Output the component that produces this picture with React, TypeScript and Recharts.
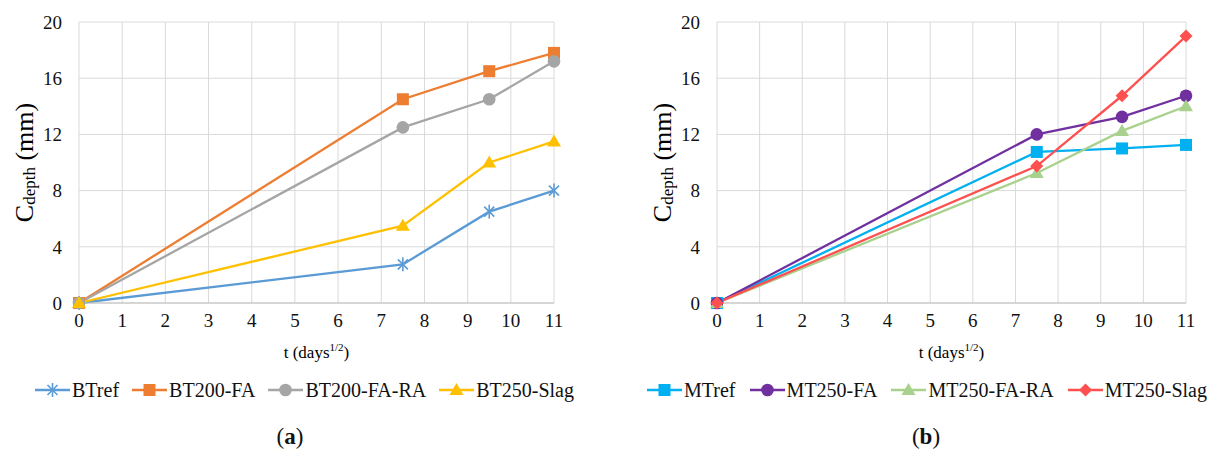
import React from 'react';
import { LineChart, Line, XAxis, YAxis, CartesianGrid } from 'recharts';

const T_VALUES = [0, 7.5, 9.5, 11];
const X_TICKS = [0, 1, 2, 3, 4, 5, 6, 7, 8, 9, 10, 11];
const Y_TICKS = [0, 4, 8, 12, 16, 20];

// panel (a)
const BT_REF = [0, 2.75, 6.5, 8];
const BT200_FA = [0, 14.5, 16.5, 17.8];
const BT200_FA_RA = [0, 12.5, 14.5, 17.2];
const BT250_SLAG = [0, 5.5, 10, 11.5];

// panel (b)
const MT_REF = [0, 10.75, 11, 11.25];
const MT250_FA = [0, 12, 13.25, 14.75];
const MT250_FA_RA = [0, 9.25, 12.25, 14];
const MT250_SLAG = [0, 9.75, 14.75, 19];

type Shape = 'star' | 'square' | 'circle' | 'triangle' | 'diamond';

interface SeriesDef {
  key: string;
  name: string;
  values: number[];
  color: string;
  shape: Shape;
}

const SERIES_A: SeriesDef[] = [
  { key: 'btref', name: 'BTref', values: BT_REF, color: '#5b9bd5', shape: 'star' },
  { key: 'bt200fa', name: 'BT200-FA', values: BT200_FA, color: '#ed7d31', shape: 'square' },
  { key: 'bt200fara', name: 'BT200-FA-RA', values: BT200_FA_RA, color: '#a5a5a5', shape: 'circle' },
  { key: 'bt250slag', name: 'BT250-Slag', values: BT250_SLAG, color: '#ffc000', shape: 'triangle' },
];

const SERIES_B: SeriesDef[] = [
  { key: 'mtref', name: 'MTref', values: MT_REF, color: '#00b0f0', shape: 'square' },
  { key: 'mt250fa', name: 'MT250-FA', values: MT250_FA, color: '#7030a0', shape: 'circle' },
  { key: 'mt250fara', name: 'MT250-FA-RA', values: MT250_FA_RA, color: '#a9d18e', shape: 'triangle' },
  { key: 'mt250slag', name: 'MT250-Slag', values: MT250_SLAG, color: '#ff5050', shape: 'diamond' },
];

const FONT = 'Liberation Serif, Tinos, DejaVu Serif, serif';
const GRID = '#d9d9d9';

function buildRows(series: SeriesDef[]) {
  return T_VALUES.map((t, i) => {
    const row: Record<string, number> = { t };
    series.forEach((s) => {
      row[s.key] = s.values[i];
    });
    return row;
  });
}

function Marker({ shape, color, cx, cy }: { shape: Shape; color: string; cx: number; cy: number }) {
  switch (shape) {
    case 'star':
      return (
        <g stroke={color} strokeWidth={1.6}>
          <line x1={cx - 5} y1={cy - 5} x2={cx + 5} y2={cy + 5} />
          <line x1={cx - 5} y1={cy + 5} x2={cx + 5} y2={cy - 5} />
          <line x1={cx} y1={cy - 7} x2={cx} y2={cy + 7} />
        </g>
      );
    case 'square':
      return <rect x={cx - 6} y={cy - 6} width={12} height={12} fill={color} />;
    case 'circle':
      return <circle cx={cx} cy={cy} r={6.3} fill={color} />;
    case 'triangle':
      return <polygon points={`${cx},${cy - 7} ${cx + 7},${cy + 5} ${cx - 7},${cy + 5}`} fill={color} />;
    case 'diamond':
      return <polygon points={`${cx},${cy - 6.5} ${cx + 6.5},${cy} ${cx},${cy + 6.5} ${cx - 6.5},${cy}`} fill={color} />;
  }
  return null;
}

function makeDot(s: SeriesDef) {
  return (props: any) => {
    const { cx, cy, index } = props;
    if (cx == null || cy == null) return <g key={`${s.key}-${index}`} />;
    return (
      <g key={`${s.key}-${index}`}>
        <Marker shape={s.shape} color={s.color} cx={cx} cy={cy} />
      </g>
    );
  };
}

function YTitle(props: any) {
  const vb = props.viewBox || { x: 0, y: 0, width: 0, height: 0 };
  const x = vb.x + vb.width - 55;
  const y = vb.y + vb.height / 2;
  return (
    <text
      x={x}
      y={y}
      transform={`rotate(-90, ${x}, ${y})`}
      textAnchor="middle"
      dominantBaseline="central"
      style={{ fontFamily: FONT }}
      fontSize={26}
      fill="#000"
    >
      <tspan>C</tspan>
      <tspan fontSize={17} dy={5}>depth</tspan>
      <tspan dy={-5}> (mm)</tspan>
    </text>
  );
}

function XTitle(props: any) {
  const vb = props.viewBox || { x: 0, y: 0, width: 0, height: 0 };
  const x = vb.x + vb.width / 2;
  const y = vb.y + 55;
  return (
    <text x={x} y={y} textAnchor="middle" style={{ fontFamily: FONT }} fontSize={17} fill="#000">
      <tspan>t (days</tspan>
      <tspan fontSize={11} dy={-7}>1/2</tspan>
      <tspan dy={7}>)</tspan>
    </text>
  );
}

function Panel({
  series,
  width,
  margin,
}: {
  series: SeriesDef[];
  width: number;
  margin: { top: number; right: number; bottom: number; left: number };
}) {
  const rows = buildRows(series);
  return (
    <LineChart width={width} height={453} data={rows} margin={margin} style={{ fontFamily: FONT }}>
      <CartesianGrid stroke={GRID} strokeWidth={1} />
      <XAxis
        dataKey="t"
        type="number"
        domain={[0, 11]}
        ticks={X_TICKS}
        interval={0}
        tickSize={0}
        tickMargin={11}
        height={30}
        axisLine={{ stroke: '#bfbfbf' }}
        tick={{ fill: '#111', fontSize: 19, style: { fontFamily: FONT } }}
        label={<XTitle />}
      />
      <YAxis
        type="number"
        domain={[0, 20]}
        ticks={Y_TICKS}
        interval={0}
        width={30}
        tickSize={0}
        tickMargin={17}
        axisLine={false}
        tick={{ fill: '#111', fontSize: 19, style: { fontFamily: FONT } }}
        label={<YTitle />}
      />
      {series.map((s) => (
        <Line
          key={s.key}
          dataKey={s.key}
          name={s.name}
          type="linear"
          stroke={s.color}
          strokeWidth={2.3}
          dot={makeDot(s)}
          activeDot={false}
          isAnimationActive={false}
        />
      ))}
    </LineChart>
  );
}

function LegendRow({ series, left, width }: { series: SeriesDef[]; left: number; width: number }) {
  return (
    <div
      style={{
        position: 'absolute',
        left,
        top: 377,
        width,
        height: 26,
        display: 'flex',
        justifyContent: 'space-between',
        alignItems: 'center',
        fontFamily: FONT,
        fontSize: 20,
        color: '#111',
        whiteSpace: 'nowrap',
      }}
    >
      {series.map((s) => (
        <div key={s.key} style={{ display: 'flex', alignItems: 'center' }}>
          <svg width={35} height={20} style={{ display: 'block' }}>
            <line x1={0} y1={10} x2={35} y2={10} stroke={s.color} strokeWidth={2.3} />
            <Marker shape={s.shape} color={s.color} cx={17.5} cy={10} />
          </svg>
          <span style={{ marginLeft: 2 }}>{s.name}</span>
        </div>
      ))}
    </div>
  );
}

function PanelLabel({ letter, cx }: { letter: string; cx: number }) {
  return (
    <div
      style={{
        position: 'absolute',
        left: cx - 40,
        width: 80,
        top: 424,
        textAlign: 'center',
        fontFamily: FONT,
        fontSize: 23,
        lineHeight: '26px',
        color: '#111',
      }}
    >
      (<b>{letter}</b>)
    </div>
  );
}

export default function App() {
  return (
    <div style={{ position: 'absolute', left: 0, top: 0, width: 1215, height: 453, background: '#fff', overflow: 'hidden', fontFamily: FONT }}>
      <div style={{ position: 'absolute', left: 0, top: 0 }}>
        <Panel series={SERIES_A} width={600} margin={{ top: 22, right: 46, bottom: 120, left: 49 }} />
      </div>
      <div style={{ position: 'absolute', left: 610, top: 0 }}>
        <Panel series={SERIES_B} width={605} margin={{ top: 22, right: 29, bottom: 120, left: 77 }} />
      </div>
      <LegendRow series={SERIES_A} left={35} width={539} />
      <LegendRow series={SERIES_B} left={647} width={560} />
      <PanelLabel letter="a" cx={290} />
      <PanelLabel letter="b" cx={926} />
    </div>
  );
}
